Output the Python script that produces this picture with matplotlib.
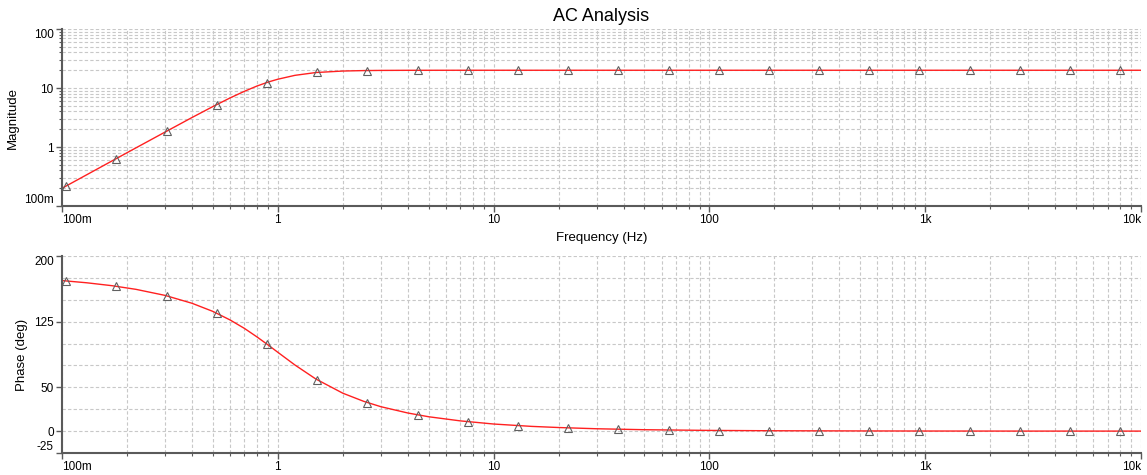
import matplotlib
matplotlib.use("Agg")
import matplotlib.pyplot as plt
import numpy as np
from matplotlib.ticker import LogLocator, NullFormatter

plt.rcParams['font.family'] = ['Liberation Sans', 'DejaVu Sans']
plt.rcParams['axes.unicode_minus'] = False

# curve points
freq = [0.1, 0.13, 0.17, 0.22, 0.3, 0.4, 0.5, 0.6, 0.7, 0.8, 0.9, 1.0, 1.2, 1.5,
        2, 2.5, 3, 4, 5, 7, 10, 15, 20, 30, 50, 100, 200, 500, 1000, 3000, 10000]
mag = [0.2, 0.338, 0.578, 0.967, 1.79, 3.16, 4.85, 6.78, 8.8, 10.8, 12.6, 14.1, 16.4, 18.3,
       19.4, 19.75, 19.88, 19.96, 19.98, 20.0, 20.0, 20.0, 20.0, 20.0, 20.0, 20.0, 20.0,
       20.0, 20.0, 20.0, 20.0]
phase = [171.9, 169.4, 166.1, 161.9, 155.0, 146.0, 136.7, 127.0, 117.3, 107.6, 98.5, 90.0,
         75.5, 59.5, 43.3, 34.0, 27.9, 20.7, 16.4, 11.7, 8.1, 5.4, 4.1, 2.7, 1.6, 0.8, 0.4,
         0.2, 0.1, 0.03, 0.01]

# marker points
mk_freq = [0.1045, 0.1785, 0.305, 0.521, 0.890, 1.521, 2.598, 4.439, 7.584, 12.96, 22.14,
           37.82, 64.62, 110.4, 188.6, 322.2, 550.5, 940.5, 1607, 2745, 4690, 8013]
mk_mag = [0.218, 0.637, 1.85, 5.24, 12.4, 18.4, 19.8, 19.97, 20.0, 20.0, 20.0,
          20.0, 20.0, 20.0, 20.0, 20.0, 20.0, 20.0, 20.0, 20.0, 20.0, 20.0]
mk_phase = [171.5, 165.4, 154.6, 134.7, 99.4, 58.6, 32.6, 18.6, 10.7, 6.3, 3.7,
            2.1, 1.3, 0.7, 0.4, 0.25, 0.15, 0.09, 0.05, 0.03, 0.02, 0.01]

xticks = [0.1, 1, 10, 100, 1000, 10000]
xlabels = ['100m', '1', '10', '100', '1k', '10k']

grid_kw = dict(color='#c8c8c8', linestyle=(0, (3, 2)), linewidth=0.8)
spine_c = '#5a5a5a'

fig = plt.figure(figsize=(11.47, 4.75), dpi=100)
ax1 = fig.add_axes([0.0541, 0.5663, 0.9407, 0.3726])
ax2 = fig.add_axes([0.0541, 0.0463, 0.9407, 0.4148])


def style(ax):
    ax.set_xscale('log')
    ax.set_xlim(0.1, 10000)
    ax.set_xticks(xticks)
    ax.set_xticklabels(xlabels)
    ax.xaxis.set_minor_locator(LogLocator(base=10, subs=np.arange(2, 10)))
    ax.xaxis.set_minor_formatter(NullFormatter())
    for s in ['top', 'right']:
        ax.spines[s].set_visible(False)
    for s in ['left', 'bottom']:
        ax.spines[s].set_color(spine_c)
        ax.spines[s].set_linewidth(1.5)
    ax.tick_params(which='major', length=4, width=1, color=spine_c, labelsize=8.5, pad=2)
    ax.tick_params(which='minor', length=2.5, width=0.8, color=spine_c)
    ax.grid(True, which='both', axis='x', **grid_kw)
    ax.set_axisbelow(True)
    xl = ax.get_xticklabels()
    xl[0].set_horizontalalignment('left')
    xl[-1].set_horizontalalignment('right')


def pull_in(ax):
    # end labels on the y axis sit inside the axis range
    yl = ax.get_yticklabels()
    for t in yl:
        if t.get_position()[1] == max(ax.get_yticks()):
            t.set_verticalalignment('top')
        if t.get_position()[1] == min(ax.get_yticks()):
            t.set_verticalalignment('bottom')


style(ax1)
ax1.set_yscale('log')
ax1.set_ylim(0.1, 100)
ax1.set_yticks([0.1, 1, 10, 100])
ax1.set_yticklabels(['100m', '1', '10', '100'])
ax1.yaxis.set_minor_locator(LogLocator(base=10, subs=np.arange(2, 10)))
ax1.yaxis.set_minor_formatter(NullFormatter())
ax1.grid(True, which='both', axis='y', **grid_kw)
ax1.plot(freq, mag, color='#ff2020', linewidth=1.0)
ax1.plot(mk_freq, mk_mag, linestyle='none', marker='^', markersize=6,
         markerfacecolor='none', markeredgecolor='#606060', markeredgewidth=0.8)
ax1.set_ylabel('Magnitude', fontsize=9.5, labelpad=4)
ax1.set_xlabel('Frequency (Hz)', fontsize=9.5, labelpad=4)
ax1.set_title('AC Analysis', fontsize=13, pad=6)
pull_in(ax1)

style(ax2)
ax2.set_ylim(-25, 200)
ax2.set_yticks([200, 125, 50, 0, -25])
ax2.set_yticks([175, 150, 100, 75, 25], minor=True)
ax2.tick_params(axis='y', which='minor', length=0)
ax2.grid(True, which='both', axis='y', **grid_kw)
ax2.plot(freq, phase, color='#ff2020', linewidth=1.0)
ax2.plot(mk_freq, mk_phase, linestyle='none', marker='^', markersize=6,
         markerfacecolor='none', markeredgecolor='#606060', markeredgewidth=0.8)
ax2.set_ylabel('Phase (deg)', fontsize=9.5, labelpad=4)
pull_in(ax2)

fig.savefig('out.png', dpi=100)
